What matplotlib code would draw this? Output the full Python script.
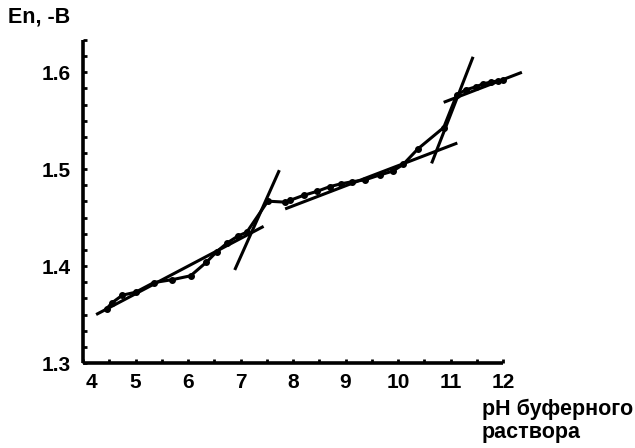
import matplotlib
matplotlib.use("Agg")
import matplotlib.pyplot as plt
from matplotlib.ticker import FixedLocator
import matplotlib.transforms as mtrans

# measured data (pH of buffer, potential E, -V)
ph = [4.45, 4.55, 4.75, 5.0, 5.35, 5.7, 6.05, 6.35, 6.55, 6.75, 6.95, 7.12,
      7.52, 7.85, 7.95, 8.2, 8.45, 8.7, 8.92, 9.12, 9.37, 9.65, 9.9, 10.1,
      10.38, 10.87, 11.12, 11.3, 11.48, 11.62, 11.77, 11.9, 12.0]
E = [1.356, 1.362, 1.370, 1.373, 1.383, 1.386, 1.390, 1.404, 1.415, 1.424, 1.431, 1.435,
     1.467, 1.466, 1.468, 1.473, 1.477, 1.482, 1.485, 1.487, 1.489, 1.494, 1.498, 1.505,
     1.521, 1.543, 1.577, 1.582, 1.585, 1.588, 1.590, 1.591, 1.592]

# straight-line constructions (endpoints)
fit1_ph, fit1_E = [4.25, 7.44], [1.350, 1.441]
tan1_ph, tan1_E = [6.89, 7.74], [1.396, 1.499]
fit2_ph, fit2_E = [7.85, 11.13], [1.459, 1.527]
tan2_ph, tan2_E = [10.64, 11.43], [1.506, 1.616]
fit3_ph, fit3_E = [10.87, 12.36], [1.569, 1.600]

xticks = [4, 5, 6, 7, 8, 9, 10, 11, 12]
yticks = [1.3, 1.4, 1.5, 1.6]

plt.rcParams['font.family'] = ['Liberation Sans', 'DejaVu Sans']
plt.rcParams['font.weight'] = 'bold'

fig = plt.figure(figsize=(6.35, 4.48), dpi=100)
ax = fig.add_axes([83/635, 1-363/448, (503-83)/635, (363-40)/448])

lw = 2.2
for xs, ys in [(fit1_ph, fit1_E), (tan1_ph, tan1_E), (fit2_ph, fit2_E),
               (tan2_ph, tan2_E), (fit3_ph, fit3_E)]:
    ax.plot(xs, ys, color='black', lw=lw, solid_capstyle='butt', clip_on=False)
ax.plot(ph, E, color='black', lw=lw, marker='o', ms=4, clip_on=False)

ax.set_xlim(4, 12)
ax.set_ylim(1.3, 1.3 + 20 * 0.1 / 6)

for s in ['top', 'right']:
    ax.spines[s].set_visible(False)
for s in ['left', 'bottom']:
    ax.spines[s].set_linewidth(2.6)
    ax.spines[s].set_capstyle('butt')

ax.xaxis.set_major_locator(FixedLocator(xticks))
ax.xaxis.set_minor_locator(FixedLocator([x + 0.5 for x in xticks[:-1]]))
ax.set_xticklabels([str(x) for x in xticks])
ax.yaxis.set_major_locator(FixedLocator(yticks))
ax.yaxis.set_minor_locator(FixedLocator([1.3 + k * 0.1 / 6 for k in range(21)]))
ax.set_yticklabels(['1.3', '1.4', '1.5', '1.6'])

ax.tick_params(which='both', direction='in', length=3, width=2, color='black')
ax.tick_params(axis='x', which='major', pad=7, labelsize=15)
ax.tick_params(axis='y', which='major', pad=9, labelsize=15)
for lab in ax.get_xticklabels() + ax.get_yticklabels():
    lab.set_fontweight('bold')

# shift the "4" label right, away from the y axis
first = ax.get_xticklabels()[0]
first.set_transform(first.get_transform() + mtrans.ScaledTranslation(8/100, 0, fig.dpi_scale_trans))

fig.text(8/635, 1 - 6/448, 'En, -B', ha='left', va='top', fontsize=15.5, fontweight='bold')
fig.text(482/635, 1 - 399/448, 'pH буферного\nраствора', ha='left', va='top',
         fontsize=15.5, fontweight='bold', linespacing=1.1)

fig.savefig('out.png', dpi=100)
